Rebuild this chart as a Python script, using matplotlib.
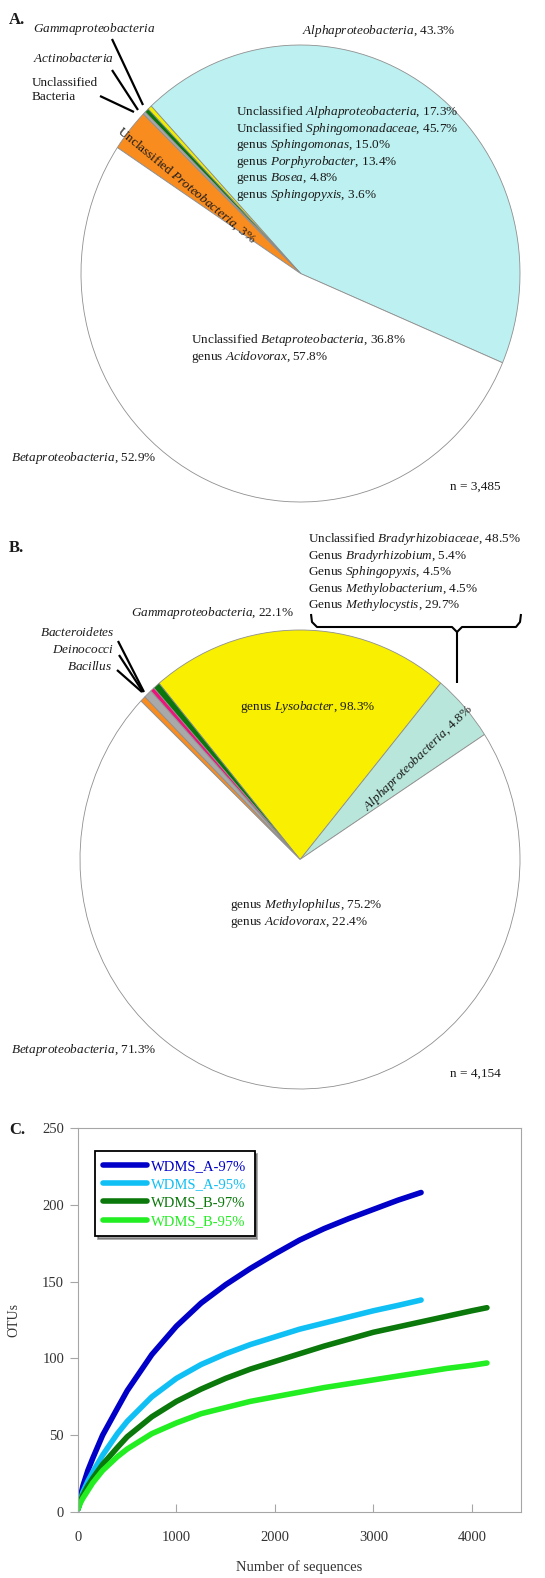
import numpy as np
import matplotlib.pyplot as plt
from matplotlib.lines import Line2D

plt.rcParams['font.family'] = 'Liberation Serif'
plt.rcParams['mathtext.fontset'] = 'custom'
plt.rcParams['mathtext.rm'] = 'Liberation Serif'
plt.rcParams['mathtext.it'] = 'Liberation Serif:italic'
plt.rcParams['font.size'] = 9.5
plt.rcParams['text.color'] = '#1a1a1a'

# --- panel A: WDMS_A community, n = 3,485
a_groups = ['Alphaproteobacteria', 'Gammaproteobacteria', 'Actinobacteria',
            'Unclassified Bacteria', 'Unclassified Proteobacteria', 'Betaproteobacteria']
a_pct = [43.3, 0.3, 0.3, 0.2, 3.0, 52.9]
a_colors = ['#bdf0f0', '#f2ee00', '#0b760b', '#a9a9a9', '#f98c1f', 'white']

# --- panel B: WDMS_B community, n = 4,154
b_groups = ['Alphaproteobacteria', 'Gammaproteobacteria', 'Bacteroidetes', 'Deinococci',
            'Bacillus', 'Unclassified Proteobacteria', 'Betaproteobacteria']
b_pct = [4.8, 22.1, 0.5, 0.3, 0.6, 0.4, 71.3]
b_colors = ['#b8e6da', '#f8f000', '#0b760b', '#f0127a', '#a9a9a9', '#f98c1f', 'white']

# --- panel C: rarefaction curves
seq_a = [0, 25, 50, 100, 150, 250, 400, 500, 750, 1000, 1250, 1500, 1750, 2000,
         2250, 2500, 2750, 3000, 3250, 3485]
otu_a97 = [2, 10, 17, 27, 35, 50, 67.5, 79, 102.5, 121, 136, 148, 158.5, 168,
           177, 184.5, 191, 197, 203, 208]
otu_a95 = [2, 8, 13, 20, 26, 37, 51, 59, 75, 87, 96, 103, 109, 114,
           119, 123, 127, 131, 134.5, 138]
seq_b = [0, 25, 50, 100, 150, 250, 400, 500, 750, 1000, 1250, 1500, 1750, 2000,
         2250, 2500, 2750, 3000, 3250, 3500, 3750, 4000, 4154]
otu_b97 = [2, 7, 11, 17, 22, 31, 42, 49, 62, 72, 80, 87, 93, 98,
           103, 108, 112.5, 117, 120.5, 124, 127.5, 131, 133]
otu_b95 = [2, 6, 9, 14, 19, 27, 36, 41, 51, 58, 64, 68, 72, 75,
           78, 81, 83.5, 86, 88.5, 91, 93.5, 95.5, 97]

W, H = 545, 1578
fig = plt.figure(figsize=(W / 100, H / 100), dpi=100)


def box(x0, y0, x1, y1):
    return [x0 / W, 1 - y1 / H, (x1 - x0) / W, (y1 - y0) / H]


def ftext(x, y, s, **kw):
    kw.setdefault('va', 'center')
    fig.text(x / W, 1 - y / H, s, **kw)


def fline(pts, lw=1.6):
    xs = [p[0] / W for p in pts]
    ys = [1 - p[1] / H for p in pts]
    fig.add_artist(Line2D(xs, ys, color='black', lw=lw, solid_capstyle='butt'))


def draw_pie(rect, vals, colors, start):
    ax = fig.add_axes(rect)
    ax.pie(vals, colors=colors, startangle=start, counterclock=True,
           wedgeprops=dict(edgecolor='#8f8f8f', linewidth=0.6))
    ax.set_aspect('auto')
    ax.set_xlim(-1.0, 1.0)
    ax.set_ylim(-1.0, 1.0)
    ax.axis('off')
    return ax


# ---------------- A ----------------
draw_pie(box(81, 45, 520, 502), a_pct, a_colors, -23)
ftext(9, 20, 'A.', fontsize=12, fontweight='bold')
ftext(33, 29, r'$\mathit{Gammaproteobacteria}$')
ftext(33, 59, r'$\mathit{Actinobacteria}$')
ftext(32, 90, 'Unclassified\nBacteria', linespacing=1.15)
fline([(112, 39), (143, 105)])
fline([(112, 70), (138, 110)])
fline([(100, 96), (134, 112)])
ftext(302, 31, r'$\mathit{Alphaproteobacteria}$, 43.3%')
alpha_lines = [r'Unclassified $\mathit{Alphaproteobacteria}$, 17.3%',
               r'Unclassified $\mathit{Sphingomonadaceae}$, 45.7%',
               r'genus $\mathit{Sphingomonas}$, 15.0%',
               r'genus $\mathit{Porphyrobacter}$, 13.4%',
               r'genus $\mathit{Bosea}$, 4.8%',
               r'genus $\mathit{Sphingopyxis}$, 3.6%']
for i, s in enumerate(alpha_lines):
    ftext(236, 112 + i * 16.6, s)
ftext(186, 185, r'Unclassified $\mathit{Proteobacteria}$, 3%', rotation=-39.5,
      ha='center', rotation_mode='anchor')
ftext(191, 340, r'Unclassified $\mathit{Betaproteobacteria}$, 36.8%')
ftext(191, 357, r'genus $\mathit{Acidovorax}$, 57.8%')
ftext(11, 458, r'$\mathit{Betaproteobacteria}$, 52.9%')
ftext(450, 487, 'n = 3,485')

# ---------------- B ----------------
draw_pie(box(80, 630, 520, 1089), b_pct, b_colors, 33)
ftext(9, 548, 'B.', fontsize=12, fontweight='bold')
brady_lines = [r'Unclassified $\mathit{Bradyrhizobiaceae}$, 48.5%',
               r'Genus $\mathit{Bradyrhizobium}$, 5.4%',
               r'Genus $\mathit{Sphingopyxis}$, 4.5%',
               r'Genus $\mathit{Methylobacterium}$, 4.5%',
               r'Genus $\mathit{Methylocystis}$, 29.7%']
for i, s in enumerate(brady_lines):
    ftext(308, 539 + i * 16.6, s)
fline([(311, 614), (312, 622), (317, 627), (452, 627), (457, 632),
       (462, 627), (516, 627), (520, 622), (521, 614)], lw=1.5)
fline([(457, 632), (457, 683)], lw=1.5)
ftext(131, 613, r'$\mathit{Gammaproteobacteria}$, 22.1%')
ftext(114, 632, r'$\mathit{Bacteroidetes}$', ha='right')
ftext(114, 650, r'$\mathit{Deinococci}$', ha='right')
ftext(112, 667, r'$\mathit{Bacillus}$', ha='right')
fline([(118, 641), (144, 692)])
fline([(119, 655), (143, 692)])
fline([(117, 670), (142, 692)])
ftext(240, 707, r'genus $\mathit{Lysobacter}$, 98.3%')
ftext(418, 758, r'$\mathit{Alphaproteobacteria}$, 4.8%', rotation=44,
      ha='center', rotation_mode='anchor')
ftext(230, 905, r'genus $\mathit{Methylophilus}$, 75.2%')
ftext(230, 922, r'genus $\mathit{Acidovorax}$, 22.4%')
ftext(11, 1050, r'$\mathit{Betaproteobacteria}$, 71.3%')
ftext(450, 1074, 'n = 4,154')

# ---------------- C ----------------
ftext(9, 1130, 'C.', fontsize=12, fontweight='bold')
ax = fig.add_axes(box(78, 1128, 521, 1512))
ax.plot(seq_a, otu_a97, color='#0000c8', lw=4, solid_capstyle='round', label='WDMS_A-97%')
ax.plot(seq_a, otu_a95, color='#10c0f5', lw=4, solid_capstyle='round', label='WDMS_A-95%')
ax.plot(seq_b, otu_b97, color='#0a780a', lw=4, solid_capstyle='round', label='WDMS_B-97%')
ax.plot(seq_b, otu_b95, color='#22ee22', lw=4, solid_capstyle='round', label='WDMS_B-95%')
ax.set_xlim(0, 4500)
ax.set_ylim(0, 250)
ax.set_xticks([0, 1000, 2000, 3000, 4000])
ax.set_yticks([0, 50, 100, 150, 200, 250])
for sp in ax.spines.values():
    sp.set_color('#a6a6a6')
ax.tick_params(axis='y', direction='out', length=6, color='#a6a6a6', labelsize=10.5,
               labelcolor='#333333', pad=4)
ax.tick_params(axis='x', direction='in', length=6, color='#a6a6a6', labelsize=10.5,
               labelcolor='#333333', pad=14)
ax.set_ylabel('OTUs', fontsize=10, color='#333333', labelpad=16)
ax.set_xlabel('Number of sequences', fontsize=10.5, color='#333333', labelpad=11)
leg = ax.legend(loc='upper left', bbox_to_anchor=(0.022, 0.958), fancybox=False,
                shadow=True, edgecolor='black', labelcolor='linecolor', fontsize=10.5,
                handlelength=3.0, handletextpad=0.3, labelspacing=0.36, borderpad=0.55)
leg.get_frame().set_linewidth(1.3)

fig.savefig('out.png', dpi=100)
